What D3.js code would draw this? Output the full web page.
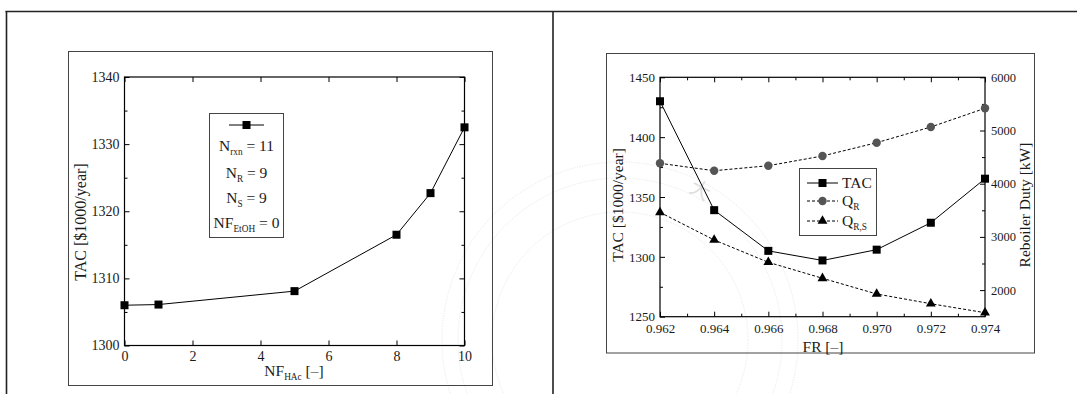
<!DOCTYPE html>
<html>
<head>
<meta charset="utf-8">
<script src="https://cdn.jsdelivr.net/npm/d3@7"></script>
<style>
  body { margin: 0; background: #fff; }
  text { font-family: "Liberation Serif", "Times New Roman", serif; fill: #1a1a1a; }
</style>
</head>
<body>
<svg id="chart" width="1077" height="394"></svg>
<script>
// ---- Left panel: TAC vs. acetic acid feed stage ----
const nfHac      = [0, 1, 5, 8, 9, 10];
const tacByNf    = [1306.0, 1306.1, 1308.1, 1316.5, 1322.7, 1332.5];
const nfTicks    = [0, 2, 4, 6, 8, 10];
const tacNfTicks = [1300, 1310, 1320, 1330, 1340];
const tacNfMinor = [1305, 1315, 1325, 1335];

// ---- Right panel: TAC and reboiler duties vs. FR ----
const fr         = [0.962, 0.964, 0.966, 0.968, 0.970, 0.972, 0.974];
const tacByFr    = [1430, 1339, 1305, 1297, 1306, 1328.5, 1365.3];
const qR         = [4383, 4244, 4338, 4521, 4771, 5066, 5417];
const qRS        = [3462, 2942, 2523, 2222, 1927, 1744, 1575];
const frTicks    = [0.962, 0.964, 0.966, 0.968, 0.970, 0.972, 0.974];
const frMinor    = [0.963, 0.965, 0.967, 0.969, 0.971, 0.973];
const tacFrTicks = [1250, 1300, 1350, 1400, 1450];
const tacFrMinor = [1275, 1325, 1375, 1425];
const dutyTicks  = [2000, 3000, 4000, 5000, 6000];
const dutyMinor  = [2500, 3500, 4500, 5500];

const svg = d3.select("#chart");

// faint seal behind the page
const seal = svg.append("g").attr("opacity", 0.5);
[178, 162, 128].forEach(r => seal.append("circle")
  .attr("cx", 620).attr("cy", 340).attr("r", r)
  .attr("fill", "none").attr("stroke", "#cfcfcf")
  .attr("stroke-width", 1).attr("stroke-dasharray", "1,1.5"));
seal.append("text").attr("x", 700).attr("y", 197)
  .attr("text-anchor", "middle").attr("transform", "rotate(28,700,190)")
  .style("font-size", "20px")
  .style("fill", "#bdbdbd").style("font-family", "'Noto Sans CJK SC'").text("大");

// table rules
const rule = (x1, y1, x2, y2) => svg.append("line")
  .attr("x1", x1).attr("y1", y1).attr("x2", x2).attr("y2", y2)
  .attr("stroke", "#222").attr("stroke-width", 1.6);
rule(5.5, 11.5, 1077, 11.5);
rule(6.5, 11, 6.5, 394);
rule(553, 11, 553, 394);

// outer frames of the two figures
svg.append("rect").attr("x", 68.5).attr("y", 51.5).attr("width", 424).attr("height", 334)
  .attr("fill", "none").attr("stroke", "#444").attr("stroke-width", 1);
svg.append("rect").attr("x", 606.5).attr("y", 53.5).attr("width", 428).attr("height", 299.5)
  .attr("fill", "none").attr("stroke", "#444").attr("stroke-width", 1);

// helper: text with a subscript part
function subText(g, x, y, parts, size, anchor, rotate) {
  const t = g.append("text").attr("x", x).attr("y", y)
    .attr("text-anchor", anchor || "middle").style("font-size", size + "px");
  if (rotate) t.attr("transform", `rotate(-90,${x},${y})`);
  let shifted = 0;
  parts.forEach(p => {
    const s = t.append("tspan").text(p.t);
    if (p.sub) {
      s.style("font-size", (size * 0.6) + "px").attr("dy", 4);
      shifted = 4;
    } else if (shifted) {
      s.attr("dy", -shifted);
      shifted = 0;
    }
  });
  return t;
}

// helper: inward axes with major + minor ticks on all four sides
function frameAxes(g, x, y, o) {
  const [x0, x1] = x.range(), [y0, y1] = y.range();
  const style = sel => {
    sel.select(".domain").remove();
    sel.selectAll("line").attr("stroke", "#000");
    sel.selectAll("text").style("font-size", o.fs + "px")
      .style("font-family", "'Liberation Serif', serif").attr("fill", "#222");
  };
  const add = (axis, tr) => g.append("g").attr("transform", tr).call(axis).call(style);
  add(d3.axisBottom(x).tickValues(o.xMajor).tickSize(-5).tickSizeOuter(0).tickPadding(o.xPad).tickFormat(o.xFmt), `translate(0,${y0})`);
  add(d3.axisTop(x).tickValues(o.xMajor).tickSize(-5).tickSizeOuter(0).tickFormat(""), `translate(0,${y1})`);
  if (o.xMinor) {
    add(d3.axisBottom(x).tickValues(o.xMinor).tickSize(-3).tickSizeOuter(0).tickFormat(""), `translate(0,${y0})`);
    add(d3.axisTop(x).tickValues(o.xMinor).tickSize(-3).tickSizeOuter(0).tickFormat(""), `translate(0,${y1})`);
  }
  add(d3.axisLeft(y).tickValues(o.yMajor).tickSize(-5).tickSizeOuter(0).tickPadding(5).tickFormat(o.yFmt), `translate(${x0},0)`);
  add(d3.axisLeft(y).tickValues(o.yMinor).tickSize(-3).tickSizeOuter(0).tickFormat(""), `translate(${x0},0)`);
  if (!o.noRight) {
    add(d3.axisRight(y).tickValues(o.yMajor).tickSize(-5).tickSizeOuter(0).tickFormat(""), `translate(${x1},0)`);
    add(d3.axisRight(y).tickValues(o.yMinor).tickSize(-3).tickSizeOuter(0).tickFormat(""), `translate(${x1},0)`);
  }
  g.append("rect").attr("x", x0).attr("y", y1).attr("width", x1 - x0).attr("height", y0 - y1)
    .attr("fill", "none").attr("stroke", "#000").attr("stroke-width", 1.2);
}

// ================= left figure =================
const gL = svg.append("g");
const xL = d3.scaleLinear().domain([0, 10]).range([124.5, 464.5]);
const yL = d3.scaleLinear().domain([1300, 1340]).range([345.5, 77]);
frameAxes(gL, xL, yL, {
  xMajor: nfTicks, yMajor: tacNfTicks, yMinor: tacNfMinor,
  xFmt: d3.format("d"), yFmt: d3.format("d"), fs: 14, xPad: 6
});
gL.append("path").datum(nfHac.map((v, i) => [v, tacByNf[i]]))
  .attr("fill", "none").attr("stroke", "#000").attr("stroke-width", 1)
  .attr("d", d3.line().x(d => xL(d[0])).y(d => yL(d[1])));
gL.selectAll(".sq").data(nfHac.map((v, i) => [v, tacByNf[i]])).join("rect")
  .attr("x", d => xL(d[0]) - 4).attr("y", d => yL(d[1]) - 4)
  .attr("width", 8).attr("height", 8).attr("fill", "#000");

subText(gL, 294, 376, [{t: "NF"}, {t: "HAc", sub: true}, {t: " [–]"}], 15.5);
subText(gL, 86, 222, [{t: "TAC [$1000/year]"}], 16, "middle", true);

// legend box
gL.append("rect").attr("x", 209.5).attr("y", 113.5).attr("width", 74).attr("height", 124)
  .attr("fill", "#fff").attr("stroke", "#444").attr("stroke-width", 1);
gL.append("line").attr("x1", 229).attr("x2", 264).attr("y1", 125).attr("y2", 125)
  .attr("stroke", "#000").attr("stroke-width", 1);
gL.append("rect").attr("x", 242.5).attr("y", 121).attr("width", 8).attr("height", 8).attr("fill", "#000");
subText(gL, 246.5, 151, [{t: "N"}, {t: "rxn", sub: true}, {t: " = 11"}], 15.5);
subText(gL, 246.5, 177.5, [{t: "N"}, {t: "R", sub: true}, {t: " = 9"}], 15.5);
subText(gL, 246.5, 202.5, [{t: "N"}, {t: "S", sub: true}, {t: " = 9"}], 15.5);
subText(gL, 246.5, 228, [{t: "NF"}, {t: "EtOH", sub: true}, {t: " = 0"}], 15.5);

// ================= right figure =================
const gR = svg.append("g");
const xR = d3.scaleLinear().domain([0.962, 0.974]).range([660, 985]);
const yR = d3.scaleLinear().domain([1250, 1450]).range([316.7, 77.3]);
const yD = d3.scaleLinear().domain([1500, 6000]).range([316.7, 77.3]);
frameAxes(gR, xR, yR, {
  xMajor: frTicks, xMinor: frMinor, yMajor: tacFrTicks, yMinor: tacFrMinor,
  xFmt: d3.format(".3f"), yFmt: d3.format("d"), fs: 13, noRight: true, xPad: 7
});
// right-hand duty axis
const styleR = sel => {
  sel.select(".domain").remove();
  sel.selectAll("line").attr("stroke", "#000");
  sel.selectAll("text").style("font-size", "12.5px")
    .style("font-family", "'Liberation Serif', serif").attr("fill", "#222");
};
gR.append("g").attr("transform", "translate(985,0)")
  .call(d3.axisRight(yD).tickValues(dutyTicks).tickSize(-5).tickSizeOuter(0).tickPadding(6).tickFormat(d3.format("d"))).call(styleR);
gR.append("g").attr("transform", "translate(985,0)")
  .call(d3.axisRight(yD).tickValues(dutyMinor).tickSize(-3).tickSizeOuter(0).tickFormat("")).call(styleR);

const lineR = (ys, sc) => d3.line().x((d, i) => xR(fr[i])).y(d => sc(d))(ys);
gR.append("path").attr("d", lineR(qR, yD)).attr("fill", "none")
  .attr("stroke", "#000").attr("stroke-width", 1).attr("stroke-dasharray", "3,2");
gR.append("path").attr("d", lineR(qRS, yD)).attr("fill", "none")
  .attr("stroke", "#000").attr("stroke-width", 1).attr("stroke-dasharray", "3,2");
gR.append("path").attr("d", lineR(tacByFr, yR)).attr("fill", "none")
  .attr("stroke", "#000").attr("stroke-width", 1);

const tri = d3.symbol().type(d3.symbolTriangle).size(42);
gR.selectAll(".c").data(qR).join("circle")
  .attr("cx", (d, i) => xR(fr[i])).attr("cy", d => yD(d)).attr("r", 4.2).attr("fill", "#555");
gR.selectAll(".t").data(qRS).join("path")
  .attr("transform", (d, i) => `translate(${xR(fr[i])},${yD(d)})`).attr("d", tri).attr("fill", "#000");
gR.selectAll(".s").data(tacByFr).join("rect")
  .attr("x", (d, i) => xR(fr[i]) - 4).attr("y", d => yR(d) - 4)
  .attr("width", 8).attr("height", 8).attr("fill", "#000");

subText(gR, 823, 352, [{t: "FR [–]"}], 15.5);
subText(gR, 623, 205, [{t: "TAC [$1000/year]"}], 15.5, "middle", true);
subText(gR, 1030, 205, [{t: "Reboiler Duty [kW]"}], 15.5, "middle", true);

// legend
gR.append("rect").attr("x", 799.5).attr("y", 168.5).attr("width", 77).attr("height", 67)
  .attr("fill", "#fff").attr("stroke", "#444").attr("stroke-width", 1);
const legY = [183, 201, 221];
gR.append("line").attr("x1", 807).attr("x2", 838).attr("y1", legY[0]).attr("y2", legY[0]).attr("stroke", "#000");
gR.append("rect").attr("x", 818.5).attr("y", legY[0] - 4).attr("width", 8).attr("height", 8).attr("fill", "#000");
gR.append("line").attr("x1", 807).attr("x2", 838).attr("y1", legY[1]).attr("y2", legY[1]).attr("stroke", "#000").attr("stroke-dasharray", "3,2");
gR.append("circle").attr("cx", 822.5).attr("cy", legY[1]).attr("r", 4.2).attr("fill", "#555");
gR.append("line").attr("x1", 807).attr("x2", 838).attr("y1", legY[2]).attr("y2", legY[2]).attr("stroke", "#000").attr("stroke-dasharray", "3,2");
gR.append("path").attr("transform", `translate(822.5,${legY[2]})`).attr("d", tri).attr("fill", "#000");
subText(gR, 842, legY[0] + 5, [{t: "TAC"}], 15.5, "start");
subText(gR, 842, legY[1] + 5, [{t: "Q"}, {t: "R", sub: true}], 15.5, "start");
subText(gR, 842, legY[2] + 5, [{t: "Q"}, {t: "R,S", sub: true}], 15.5, "start");
</script>
</body>
</html>
